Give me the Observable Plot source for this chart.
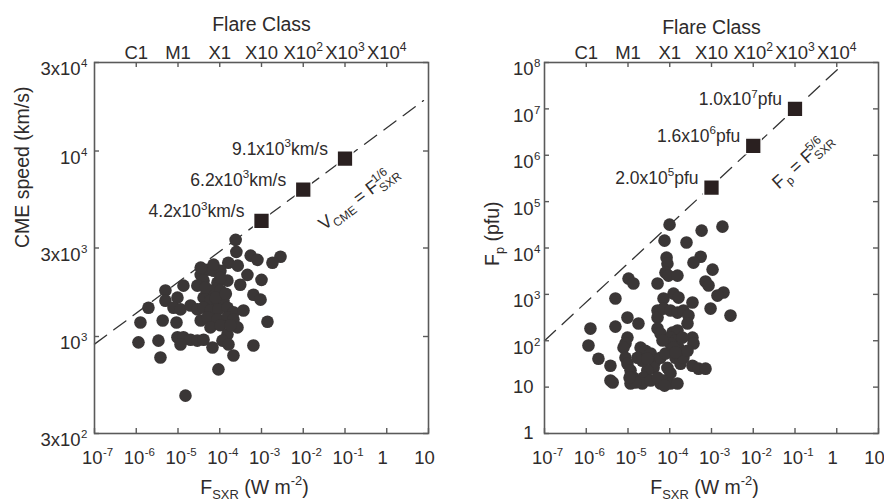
<!DOCTYPE html>
<html><head><meta charset="utf-8">
<script src="https://cdn.jsdelivr.net/npm/d3@7"></script>
<script src="https://cdn.jsdelivr.net/npm/@observablehq/plot@0.6"></script>
<style>
html,body{margin:0;padding:0;background:#fff;}
#row{display:flex;width:884px;height:502px;}
</style></head><body><div id="row"></div>
<script>
// ---------- data ----------
const fluxTicks = [1e-7, 1e-6, 1e-5, 1e-4, 1e-3, 1e-2, 1e-1, 1, 10];
const fluxTickLabels = ["10^{-7}","10^{-6}","10^{-5}","10^{-4}","10^{-3}","10^{-2}","10^{-1}","1","10"];
const classTicks = [1e-6, 1e-5, 1e-4, 1e-3, 1e-2, 1e-1, 1];
const classLabels = ["C1","M1","X1","X10","X10^{2}","X10^{3}","X10^{4}"];
const speedTicks = [300, 1000, 3000, 10000, 30000];
const speedTickLabels = ["3x10^{2}","10^{3}","3x10^{3}","10^{4}","3x10^{4}"];
const peakTicks = [1, 10, 1e2, 1e3, 1e4, 1e5, 1e6, 1e7, 1e8];
const peakTickLabels = ["1","10","10^{2}","10^{3}","10^{4}","10^{5}","10^{6}","10^{7}","10^{8}"];

// CME speed vs SXR flux (observed)
const cmeFlux = [2.4e-4,2.5e-4,5.5e-4,8.0e-4,2.85e-3,1.83e-3,1.6e-4,2.7e-4,5.1e-5,7.1e-5,1.04e-4,3.5e-5,4.6e-4,1.0e-3,4.1e-5,8.8e-5,1.53e-4,3.1e-4,1.35e-5,2.9e-5,5.0e-6,6.0e-5,1.04e-4,6.4e-4,9.5e-4,9.7e-6,5.0e-6,4.1e-5,6.0e-5,8.8e-5,1.23e-4,1.96e-6,7.8e-6,1.15e-5,2.0e-5,2.9e-5,4.1e-5,6.0e-5,9.3e-5,1.53e-4,2.13e-4,3.7e-4,1.26e-6,4.3e-6,9.2e-6,3.5e-5,5.1e-5,8.8e-5,1.53e-4,2.13e-4,1.39e-3,6.0e-5,1.04e-4,2.66e-4,1.53e-4,1.13e-6,3.4e-6,9.7e-6,1.35e-5,2.0e-5,2.9e-5,4.1e-5,1.15e-5,6.7e-5,1.16e-4,1.62e-4,6.4e-4,3.8e-6,2.13e-4,9.3e-5,1.51e-5,3.5e-5,7.1e-5,1.04e-4,1.81e-4,8.0e-5,4.5e-5,1.4e-4];
const cmeSpeed = [3320,2860,2730,2590,2690,2500,2500,2410,2290,2260,2260,2150,2150,2020,2000,1950,2000,1900,1880,1880,1770,1770,1770,1680,1580,1620,1560,1620,1560,1520,1560,1430,1430,1400,1470,1400,1430,1380,1400,1430,1350,1380,1190,1220,1190,1220,1265,1235,1265,1235,1200,1120,1150,1120,1025,930,950,990,990,960,950,960,905,873,950,905,895,770,790,665,480,2350,2440,2075,1150,1620,1830,1700];

// SEP peak flux vs SXR flux (observed)
const sepFlux = [9.9e-5,7.5e-5,2.52e-4,5.8e-4,1.83e-3,8.4e-5,8.8e-5,5.5e-4,3.7e-4,7.9e-5,9.3e-5,1.53e-4,1.06e-3,1.03e-5,1.35e-5,5.1e-5,7.2e-4,8.5e-4,1.94e-3,1.39e-3,5.0e-6,7.1e-5,1.23e-4,1.62e-4,3.5e-4,9.5e-4,2.85e-3,5.1e-5,5.1e-5,7.1e-5,1.04e-4,1.53e-4,2.13e-4,2.81e-4,2.66e-4,9.7e-6,1.78e-5,5.0e-6,1.26e-6,1.13e-6,9.7e-6,8.7e-6,5.1e-5,6.0e-5,1.16e-4,1.53e-4,1.04e-4,1.37e-4,1.62e-4,3.5e-4,3.7e-4,1.96e-6,3.8e-6,3.8e-6,4.3e-6,7.8e-6,8.7e-6,9.7e-6,1.15e-5,1.35e-5,2.0e-5,2.6e-5,3.5e-5,4.6e-5,4.1e-5,2.9e-5,2.35e-5,2.2e-5,6.0e-5,7.9e-5,1.04e-4,1.23e-4,1.37e-4,8.8e-5,1.04e-4,7.1e-5,6.0e-5,1.04e-4,1.53e-4,3.5e-4,4.9e-4,7.2e-4,1.81e-4,2.13e-4,2.66e-4,1.15e-5,1.51e-5,3.5e-5,5.1e-5,1.69e-5,2.2e-5,2.9e-5,1.09e-5,6.7e-5,2.02e-4,7.5e-5,1.37e-4];
const sepPeak = [31900,14400,13100,23700,28900,6200,4600,6500,4840,2950,2540,2540,3420,2190,1710,1710,1890,1550,1094,942,812,812,1040,853,666,494,349,448,316,494,448,405,448,349,235,316,235,202,183,79,117,87,183,143,150,166,117,101,71,117,87,41,29,13.9,12.6,71,43,32,23,16,71,61,53,37,26,23,16,12,43,53,87,71,43,26,20,13.9,12,12,12,29,25,25,32,43,61,12,12.6,13.9,16,43,37,41,16,101,117,10.8,56];

// extrapolated values (squares)
const predFlux = [1e-3, 1e-2, 1e-1];
const predSpeed = [4.2e3, 6.2e3, 9.1e3];
const predSpeedLabels = ["4.2x10^{3}km/s","6.2x10^{3}km/s","9.1x10^{3}km/s"];
const predPeak = [2.0e5, 1.6e6, 1.0e7];
const predPeakLabels = ["2.0x10^{5}pfu","1.6x10^{6}pfu","1.0x10^{7}pfu"];

// power-law guide lines (end points)
const speedLineFlux = [1e-7, 7.6];
const speedLineSpeed = [910, 18700];
const peakLineFlux = [1e-7, 1.37];
const peakLinePeak = [100, 8.9e7];

// relation labels
const speedRelation = {text: "V_{CME} = F_{SXR}^{1/6}", flux: 0.21, value: 5590, rotate: -37};
const peakRelation = {text: "F_{p} = F_{SXR}^{5/6}", flux: 0.15, value: 7.6e5, rotate: -42};

// ---------- drawing ----------
const INK = "#2e2b2b", FRAME = "#5a5a5a", DOT = "#3a3636", SQ = "#2a2020";
const W = 442, H = 502, MT = 62, MB = 69, TFS = 18.5;

function panel(o) {
  const innerH = H - MT - MB, innerW = W - o.ml - o.mr;
  const pts = o.xs.map((x, i) => ({x, y: o.ys[i]}));
  const preds = predFlux.map((x, i) => ({x, y: o.predY[i], label: o.predLabels[i]}));
  const line = o.lineX.map((x, i) => ({x, y: o.lineY[i]}));
  return Plot.plot({
    width: W, height: H, marginTop: MT, marginBottom: MB, marginLeft: o.ml, marginRight: o.mr,
    x: {type: "log", domain: [1e-7, 10], axis: null},
    y: {type: "log", domain: o.yDomain, axis: null},
    style: {fontFamily: "'Liberation Sans', Arial, Helvetica, sans-serif", fontSize: "17px", color: INK, background: "#fff", overflow: "hidden"},
    marks: [
      Plot.line(line, {x: "x", y: "y", stroke: "#333", strokeWidth: 1.3, strokeDasharray: "15,9"}),
      Plot.dot(pts, {x: "x", y: "y", r: 6.3, fill: DOT}),
      Plot.dot(preds, {x: "x", y: "y", symbol: "square", r: 8.9, fill: SQ, stroke: "#fff", strokeWidth: 1.5}),
      Plot.text(preds, {x: "x", y: "y", text: "label", textAnchor: "end", lineAnchor: "bottom", dx: o.predDx, dy: -4, fontSize: 17.5, fill: INK, ariaDescription: "rich"}),
      Plot.text([o.rel.text], {x: () => o.rel.flux, y: () => o.rel.value, text: d => d, rotate: o.rel.rotate, fontSize: 18, fill: INK, ariaDescription: "rich"}),
      Plot.frame({stroke: FRAME, strokeWidth: 1.6}),
      Plot.tickX(fluxTicks, {x: d => d, stroke: FRAME, strokeWidth: 1.4, insetTop: innerH - 5}),
      Plot.tickX(classTicks, {x: d => d, stroke: FRAME, strokeWidth: 1.4, insetBottom: innerH - 5}),
      Plot.tickY(o.yTicks, {y: d => d, stroke: FRAME, strokeWidth: 1.4, insetRight: innerW - 5}),
      Plot.tickY(o.yTicks, {y: d => d, stroke: FRAME, strokeWidth: 1.4, insetLeft: innerW - 5}),
      Plot.text(fluxTickLabels, {x: (d, i) => fluxTicks[i], text: d => d, frameAnchor: "bottom", lineAnchor: "top", dy: 17, dx: -4, fontSize: TFS, fill: INK, ariaDescription: "xlab"}),
      Plot.text(classLabels, {x: (d, i) => classTicks[i], text: d => d, frameAnchor: "top", lineAnchor: "bottom", dy: -4, fontSize: TFS, fill: INK, ariaDescription: "rich"}),
      Plot.text(o.yLabels, {y: (d, i) => o.yTicks[i], text: d => d, frameAnchor: "left", textAnchor: "end", dx: -o.ypad, fontSize: TFS, fill: INK, ariaDescription: "ylab"}),
      Plot.text(["Flare Class"], {text: d => d, frameAnchor: "top", lineAnchor: "bottom", dy: o.topDy, fontSize: 19.5, fill: INK}),
      Plot.text(["F_{SXR} (W m^{-2})"], {text: d => d, frameAnchor: "bottom", lineAnchor: "bottom", dy: 60, dx: -7, fontSize: 19.5, fill: INK, ariaDescription: "rich"}),
      Plot.text([o.yTitle], {text: d => d, frameAnchor: "left", rotate: -90, dx: o.yTitleDx, dy: o.yTitleDy, fontSize: 19.5, fill: INK, ariaDescription: "rich"})
    ]
  });
}

const NS = "http://www.w3.org/2000/svg";
function richify(svg) {
  svg.querySelectorAll("text").forEach(t => {
    const s = t.textContent;
    if (!/[\^_]\{/.test(s)) return;
    const g = t.closest("g[aria-description]");
    const mode = g ? g.getAttribute("aria-description") : "rich";
    const fs = parseFloat(getComputedStyle(t).fontSize) || 17;
    const tokens = [...s.matchAll(/([\^_])\{([^}]*)\}|([^\^_]+)/g)];
    t.textContent = "";
    if (mode === "xlab" || mode === "ylab") {
      const base = tokens[0][3], exp = tokens[1][2];
      const a = mode === "xlab" ? 12 : 0;
      const b = document.createElementNS(NS, "tspan");
      b.setAttribute("x", a); b.setAttribute("text-anchor", "end");
      if (mode === "ylab") b.setAttribute("dy", 7);
      b.textContent = base;
      const e = document.createElementNS(NS, "tspan");
      e.setAttribute("x", a + 0.5); e.setAttribute("text-anchor", "start");
      e.setAttribute("dy", mode === "ylab" ? -8 : -8);
      e.setAttribute("font-size", 11.5);
      e.textContent = exp;
      t.appendChild(b); t.appendChild(e);
      return;
    }
    let off = 0, prev = null;
    for (const m of tokens) {
      const ts = document.createElementNS(NS, "tspan");
      if (m[3] !== undefined) {
        ts.textContent = m[3];
        if (off) ts.setAttribute("dy", -off);
        off = 0; prev = null;
        t.appendChild(ts);
      } else {
        const sup = m[1] === "^";
        const target = sup ? -0.42 * fs : 0.26 * fs;
        ts.setAttribute("dy", target - off); off = target;
        ts.setAttribute("font-size", (0.66 * fs).toFixed(1));
        ts.textContent = m[2];
        t.appendChild(ts);
        if (sup && prev && prev.kind === "_") ts.setAttribute("dx", -prev.el.getComputedTextLength() - 1);
        prev = {kind: m[1], el: ts};
      }
    }
  });
}

const row = document.getElementById("row");
const left = panel({
  ml: 94, mr: 14, xs: cmeFlux, ys: cmeSpeed, yDomain: [300, 30000], yTicks: speedTicks, yLabels: speedTickLabels,
  predY: predSpeed, predLabels: predSpeedLabels, predDx: -17, lineX: speedLineFlux, lineY: speedLineSpeed,
  rel: speedRelation, ypad: 14, topDy: -32, yTitle: "CME speed (km/s)", yTitleDx: -72, yTitleDy: 0
});
const right = panel({
  ml: 102, mr: 6, xs: sepFlux, ys: sepPeak, yDomain: [1, 1e8], yTicks: peakTicks, yLabels: peakTickLabels,
  predY: predPeak, predLabels: predPeakLabels, predDx: -13, lineX: peakLineFlux, lineY: peakLinePeak,
  rel: peakRelation, ypad: 11, topDy: -29, yTitle: "F_{p} (pfu)", yTitleDx: -52, yTitleDy: 18
});
row.appendChild(left);
row.appendChild(right);
richify(left);
richify(right);
</script></body></html>
